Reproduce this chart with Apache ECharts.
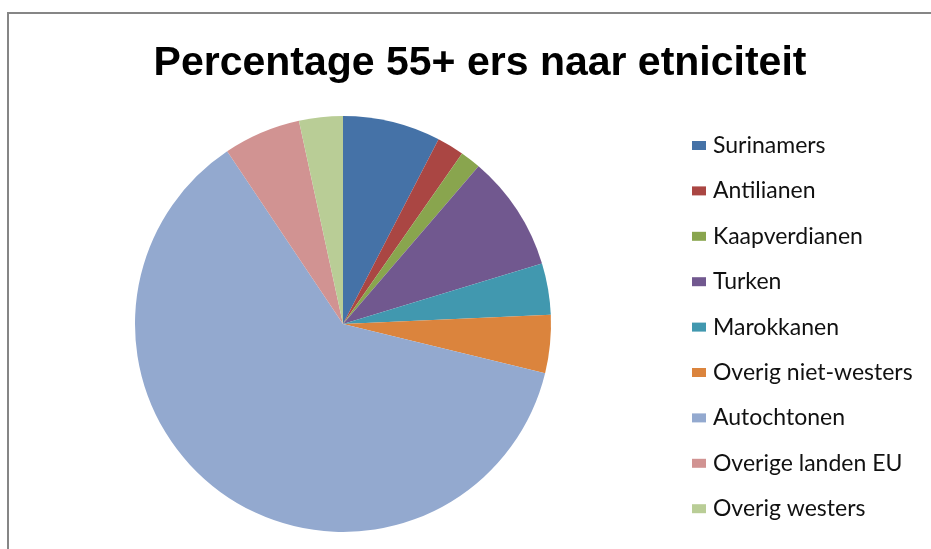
<!DOCTYPE html>
<html>
<head>
<meta charset="utf-8">
<script src="https://cdn.jsdelivr.net/npm/echarts@6/dist/echarts.min.js"></script>
<style>
  html, body { margin: 0; padding: 0; background: #fff; }
  #chart { width: 931px; height: 549px; }
</style>
</head>
<body>
<div id="chart"></div>
<script>
const categories = ['Surinamers', 'Antilianen', 'Kaapverdianen', 'Turken', 'Marokkanen',
  'Overig niet-westers', 'Autochtonen', 'Overige landen EU', 'Overig westers']
const values = [7.6, 2.1, 1.6, 9.0, 4.0, 4.5, 61.8, 6.0, 3.4]
const colors = ['#4572A7', '#AA4643', '#89A54E', '#71588F', '#4198AF',
  '#DB843D', '#93A9CF', '#D19392', '#B9CD96']

const chart = echarts.init(document.getElementById('chart'))

const option = {
  animation: false,
  color: colors,
  title: {
    text: 'Percentage 55+ ers naar etniciteit',
    left: 475,
    textAlign: 'center',
    top: 38,
    textStyle: { fontFamily: 'Liberation Sans', fontWeight: 'bold', fontSize: 41, color: '#000' }
  },
  legend: {
    orient: 'vertical',
    left: 687,
    top: 129,
    itemWidth: 14,
    itemHeight: 9,
    itemGap: 22.4,
    icon: 'rect',
    data: categories,
    textStyle: { fontFamily: 'Lato', fontSize: 23, lineHeight: 23, color: '#111', padding: [0, 0, 0, 2] }
  },
  graphic: [
    {
      type: 'rect',
      shape: { x: 8, y: 13, width: 1000, height: 1000 },
      style: { fill: 'none', stroke: '#868686', lineWidth: 2 },
      silent: true
    }
  ],
  series: [
    {
      type: 'pie',
      center: [343, 324],
      radius: 208,
      startAngle: 90,
      clockwise: true,
      label: { show: false },
      labelLine: { show: false },
      itemStyle: { borderWidth: 0 },
      data: categories.map((name, i) => ({ name: name, value: values[i] }))
    }
  ]
}

chart.setOption(option)
</script>
</body>
</html>
